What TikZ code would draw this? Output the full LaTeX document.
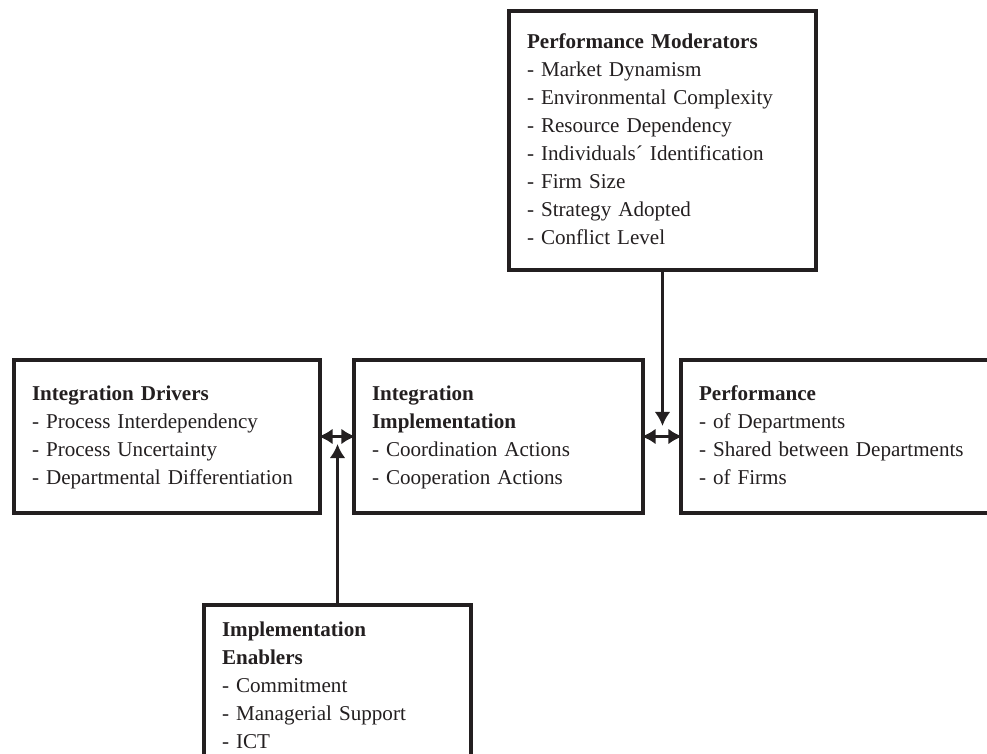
\documentclass[tikz,border=0pt]{standalone}
\usepackage{fontspec}
\setmainfont{Liberation Serif}
\usetikzlibrary{arrows.meta}
\definecolor{ink}{HTML}{231F20}

\begin{document}
\begin{tikzpicture}[scale=1.0]
\tikzset{ >={Latex[length=8pt,width=9pt]},
  box/.style={draw=ink, text=ink, line width=2.2pt, anchor=north west, inner xsep=0.36cm, inner ysep=0pt, outer sep=0pt, align=left, font=\fontsize{12}{15.94}\selectfont},
  link/.style={draw=ink, line width=1.8pt},
}

\useasboundingbox (0,0) rectangle (19.74,15.08);

%\draw [lightgray, dashed](0,0) grid (19.74,15.08);

%%% Boxes

% Moderators
\node [box, text width=5.42cm, minimum height=5.18cm] (moder) at (10.18,14.86) {\strut\textbf{Performance Moderators}\\- Market Dynamism\\- Environmental Complexity\\- Resource Dependency\\- Individuals´ Identification\\- Firm Size\\- Strategy Adopted\\- Conflict Level\strut};

% Drivers
\node [box, text width=5.40cm, minimum height=3.06cm] (drivers) at (0.28,7.88) {\strut\textbf{Integration Drivers}\\- Process Interdependency\\- Process Uncertainty\\- Departmental Differentiation\strut};

% Implementation
\node [box, text width=5.06cm, minimum height=3.06cm] (impl) at (7.08,7.88) {\strut\textbf{Integration}\\\textbf{Implementation}\\- Coordination Actions\\- Cooperation Actions\strut};

% Performance
\node [box, text width=6.28cm, minimum height=3.06cm] (perf) at (13.62,7.88) {\strut\textbf{Performance}\\- of Departments\\- Shared between Departments\\- of Firms\strut};

% Enablers
\node [box, text width=4.62cm, minimum height=3.28cm] (enab) at (4.08,2.98) {\strut\textbf{Implementation}\\\textbf{Enablers}\\- Commitment\\- Managerial Support\\- ICT\strut};

%%% Lines

% drivers <-> implementation
\draw [<->, link, shorten <=-0.8pt, shorten >=-0.8pt] (drivers.east) -- (impl.west);

% implementation <-> performance
\draw [<->, link, shorten <=-0.8pt, shorten >=-0.8pt] (impl.east) -- (perf.west);

% enablers -> drivers/implementation
\coordinate (encon) at (6.75,6.20);
\draw [->, link] (enab.north) -- (enab.north |- encon);

% moderators -> implementation/performance
\coordinate (mocon) at (13.25,6.56);
\draw [->, link] (moder.south) -- (moder.south |- mocon);

\end{tikzpicture}
\end{document}
